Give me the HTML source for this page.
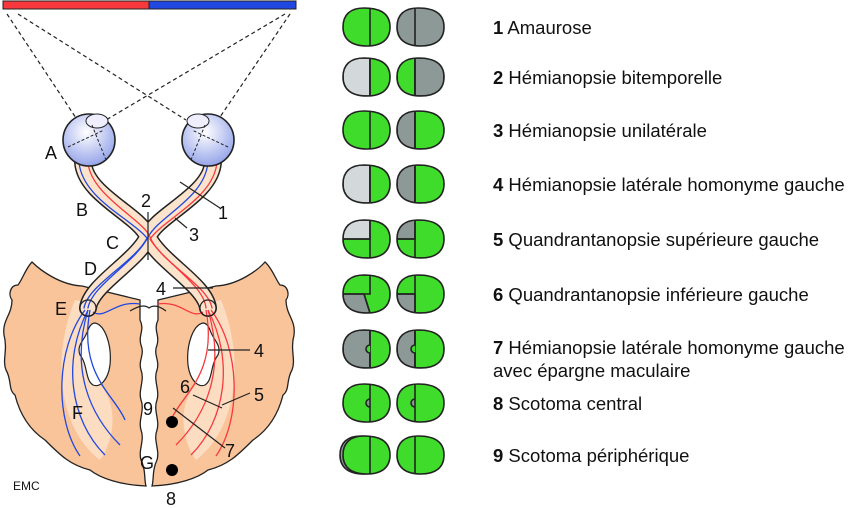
<!DOCTYPE html>
<html><head><meta charset="utf-8"><style>
html,body{margin:0;padding:0;background:#fff;}
svg{display:block;}
text{font-family:"Liberation Sans",sans-serif;}
</style></head><body>
<svg width="850" height="508" viewBox="0 0 850 508" xmlns="http://www.w3.org/2000/svg">
<defs>
<radialGradient id="eg" cx="0.45" cy="0.35" r="0.7">
<stop offset="0" stop-color="#ffffff"/><stop offset="1" stop-color="#8e9ee8"/></radialGradient>
<path id="blob" d="M21 0 C38 0 47 6 47 19 C47 32 38 38 24 38 C8 38 0 31 0 19 C0 7 7 0 21 0 Z"/>
<clipPath id="cb"><use href="#blob"/></clipPath>
</defs>

<rect x="3" y="1" width="146" height="8" fill="#f7393e" stroke="#222" stroke-width="1"/>
<rect x="149" y="1" width="147" height="8" fill="#2048e0" stroke="#222" stroke-width="1"/>
<g stroke="#222" stroke-width="1.2" stroke-dasharray="4,3" fill="none">
<line x1="7" y1="14" x2="76" y2="118"/><line x1="18" y1="14" x2="186" y2="120"/>
<line x1="285" y1="14" x2="106" y2="120"/><line x1="290" y1="14" x2="220" y2="117"/>
</g>

<g fill="#f9c49a" stroke="#222" stroke-width="1.3">
<path d="M32 262 C40 270 60 285 82 286 L140 300 L140 320 C145 330 138 335 141 345 C145 355 138 360 141 370 C145 380 138 390 141 400 C145 410 138 420 141 430 C145 440 138 450 141 460 C146 470 144 480 146 486 C120 485 100 478 90 470 C70 465 60 455 45 440 C30 430 20 415 15 395 C8 390 12 380 6 370 C2 360 8 350 4 335 C2 320 12 315 12 300 C8 295 10 285 18 285 C22 280 26 268 32 262 Z"/>
<path d="M265 262 C258 270 238 285 216 286 L158 300 L158 320 C153 330 160 335 157 345 C153 355 160 360 157 370 C153 380 160 390 157 400 C153 410 160 420 157 430 C153 440 160 450 157 460 C152 470 154 480 152 486 C178 485 198 478 208 470 C228 465 238 455 253 440 C268 430 278 415 283 395 C290 390 286 380 292 370 C296 360 290 350 294 335 C296 320 286 315 286 300 C290 295 288 285 280 285 C276 280 272 268 265 262 Z"/>
</g>
<g fill="#fde3cc" opacity="0.8">
<path d="M75 300 C50 360 60 430 100 460 C115 440 120 400 95 380 C75 350 85 320 100 305 Z"/>
<path d="M221 300 C246 360 236 430 196 460 C181 440 176 400 201 380 C221 350 211 320 196 305 Z"/>
</g>
<g fill="#fff" stroke="#222" stroke-width="1.2">
<path d="M95 323 C105 325 112 345 110 365 C108 380 100 388 93 385 C85 380 88 365 80 355 C76 345 85 340 88 330 C90 325 92 323 95 323 Z"/>
<path d="M203 323 C193 325 186 345 188 365 C190 380 198 388 205 385 C213 380 210 365 218 355 C222 345 213 340 210 330 C208 325 206 323 203 323 Z"/>
</g>
<path d="M130 311 C140 305 145 305 149 308 C153 305 158 305 166 311" fill="none" stroke="#222" stroke-width="1.2"/>

<g fill="none" stroke-linecap="round">
<path d="M83 162 C85 195 140 215 148 237 C160 262 205 285 208 308" stroke="#222" stroke-width="18"/>
<path d="M213 162 C211 195 156 215 148 237 C136 262 91 285 88 308" stroke="#222" stroke-width="18"/>
<path d="M83 162 C85 195 140 215 148 237 C160 262 205 285 208 308" stroke="#fbe3cc" stroke-width="15"/>
<path d="M213 162 C211 195 156 215 148 237 C136 262 91 285 88 308" stroke="#fbe3cc" stroke-width="15"/>
<path d="M79 162 C82 198 130 218 147 238 C135 262 88 285 84 308" stroke="#2048e0" stroke-width="1.3"/>
<path d="M208 162 C205 198 160 215 148 237 C136 262 92 285 88 308" stroke="#2048e0" stroke-width="1.3"/>
<path d="M88 162 C90 195 144 220 150 237 C160 262 208 285 212 308" stroke="#f7393e" stroke-width="1.3"/>
<path d="M217 162 C214 198 165 218 150 239 C164 262 204 285 206 308" stroke="#f7393e" stroke-width="1.3"/>
</g>
<circle cx="89" cy="140" r="26" fill="url(#eg)" stroke="#222" stroke-width="1.6"/>
<circle cx="208" cy="140" r="26" fill="url(#eg)" stroke="#222" stroke-width="1.6"/>
<ellipse cx="97" cy="121" rx="11" ry="7" fill="#eef" stroke="#222"/>
<ellipse cx="198" cy="121" rx="11" ry="7" fill="#eef" stroke="#222"/>
<g stroke="#222" stroke-dasharray="3,2" fill="none">
<line x1="68" y1="147" x2="104" y2="130"/><line x1="92" y1="125" x2="106" y2="160"/>
<line x1="228" y1="147" x2="192" y2="130"/><line x1="205" y1="125" x2="191" y2="160"/>
</g>
<g fill="none" stroke="#2048e0" stroke-width="1.3">
<path d="M85 310 C55 350 55 420 80 456"/><path d="M88 310 C62 360 70 420 105 455"/>
<path d="M88 310 C70 370 90 415 120 445"/><path d="M90 310 C78 375 115 395 125 420"/>
<path d="M93 312 C105 320 115 300 140 304"/>
</g>
<g fill="none" stroke="#f7393e" stroke-width="1.3">
<path d="M211 310 C241 350 241 420 216 456"/><path d="M208 310 C234 360 226 420 191 455"/>
<path d="M208 310 C226 370 206 415 176 445"/><path d="M206 310 C218 375 181 395 171 420"/>
<path d="M203 312 C191 320 181 300 158 304"/>
</g>
<circle cx="88" cy="308" r="8" fill="none" stroke="#222" stroke-width="1.2"/>
<circle cx="208" cy="308" r="8" fill="none" stroke="#222" stroke-width="1.2"/>
<circle cx="172" cy="422" r="6" fill="#000"/><circle cx="172" cy="470" r="6" fill="#000"/>

<g stroke="#222" stroke-width="1.2">
<line x1="148" y1="212" x2="148" y2="260"/>
<line x1="180" y1="182" x2="220" y2="208"/><line x1="175" y1="218" x2="187" y2="228"/>
<line x1="173" y1="288" x2="213" y2="288"/><line x1="208" y1="350" x2="250" y2="350"/>
<line x1="222" y1="405" x2="250" y2="393"/><line x1="193" y1="395" x2="222" y2="408"/>
<line x1="173" y1="408" x2="225" y2="448"/>
</g>
<g font-size="18" fill="#111">
<text x="45" y="159">A</text><text x="76" y="216">B</text><text x="106" y="249">C</text>
<text x="84" y="275">D</text><text x="55" y="315">E</text><text x="72" y="419">F</text>
<text x="140" y="469">G</text><text x="141" y="207">2</text><text x="218" y="219">1</text>
<text x="189" y="241">3</text><text x="156" y="295">4</text><text x="254" y="357">4</text>
<text x="254" y="401">5</text><text x="180" y="393">6</text><text x="225" y="457">7</text>
<text x="143" y="415">9</text><text x="166" y="505">8</text>
<text x="13" y="490" font-size="12">EMC</text>
</g>

<g stroke="#222" stroke-width="1.6">
<g transform="translate(343,8)"><use href="#blob" fill="#40dc2b"/><line x1="27" y1="0" x2="27" y2="38"/></g>
<g transform="translate(397,8)"><use href="#blob" fill="#8d9996"/><line x1="18" y1="0" x2="18" y2="38"/></g>
<g transform="translate(343,58)"><g clip-path="url(#cb)"><rect width="27" height="38" fill="#d3d9da"/><rect x="27" width="20" height="38" fill="#40dc2b"/></g><use href="#blob" fill="none"/><line x1="27" y1="0" x2="27" y2="38"/></g>
<g transform="translate(397,58)"><g clip-path="url(#cb)"><rect width="18" height="38" fill="#40dc2b"/><rect x="18" width="29" height="38" fill="#8d9996"/></g><use href="#blob" fill="none"/><line x1="18" y1="0" x2="18" y2="38"/></g>
<g transform="translate(343,111)"><use href="#blob" fill="#40dc2b"/><line x1="27" y1="0" x2="27" y2="38"/></g>
<g transform="translate(397,111)"><g clip-path="url(#cb)"><rect width="18" height="38" fill="#8d9996"/><rect x="18" width="29" height="38" fill="#40dc2b"/></g><use href="#blob" fill="none"/><line x1="18" y1="0" x2="18" y2="38"/></g>
<g transform="translate(343,165)"><g clip-path="url(#cb)"><rect width="27" height="38" fill="#d3d9da"/><rect x="27" width="20" height="38" fill="#40dc2b"/></g><use href="#blob" fill="none"/><line x1="27" y1="0" x2="27" y2="38"/></g>
<g transform="translate(397,165)"><g clip-path="url(#cb)"><rect width="18" height="38" fill="#8d9996"/><rect x="18" width="29" height="38" fill="#40dc2b"/></g><use href="#blob" fill="none"/><line x1="18" y1="0" x2="18" y2="38"/></g>
<g transform="translate(343,220)"><g clip-path="url(#cb)"><rect width="47" height="38" fill="#40dc2b"/><rect width="27" height="19" fill="#d3d9da"/></g><use href="#blob" fill="none"/><line x1="27" y1="0" x2="27" y2="38"/><line x1="0" y1="19" x2="27" y2="19"/></g>
<g transform="translate(397,220)"><g clip-path="url(#cb)"><rect width="47" height="38" fill="#40dc2b"/><rect width="18" height="19" fill="#8d9996"/></g><use href="#blob" fill="none"/><line x1="18" y1="0" x2="18" y2="38"/><line x1="0" y1="19" x2="18" y2="19"/></g>
<g transform="translate(343,275)"><g clip-path="url(#cb)"><rect width="47" height="38" fill="#40dc2b"/><path d="M0 19 H21 L27 38 H0 Z" fill="#8d9996"/></g><use href="#blob" fill="none"/><path d="M27 0 V19 H0 M21 19 L27 38" fill="none"/></g>
<g transform="translate(397,275)"><g clip-path="url(#cb)"><rect width="47" height="38" fill="#40dc2b"/><rect y="19" width="18" height="19" fill="#8d9996"/></g><use href="#blob" fill="none"/><line x1="18" y1="0" x2="18" y2="38"/><line x1="0" y1="19" x2="18" y2="19"/></g>
<g transform="translate(343,330)"><g clip-path="url(#cb)"><rect width="27" height="38" fill="#8d9996"/><rect x="27" width="20" height="38" fill="#40dc2b"/></g><use href="#blob" fill="none"/><path d="M27 0 V15 A4 4 0 0 0 27 23 V38" fill="#40dc2b"/></g>
<g transform="translate(397,330)"><g clip-path="url(#cb)"><rect width="18" height="38" fill="#8d9996"/><rect x="18" width="29" height="38" fill="#40dc2b"/></g><use href="#blob" fill="none"/><path d="M18 0 V15 A4 4 0 0 0 18 23 V38" fill="#40dc2b"/></g>
<g transform="translate(343,384)"><use href="#blob" fill="#40dc2b"/><path d="M27 15 A4 4 0 0 0 27 23" fill="#8d9996"/><line x1="27" y1="0" x2="27" y2="38"/></g>
<g transform="translate(397,384)"><use href="#blob" fill="#40dc2b"/><path d="M18 15 A4 4 0 0 0 18 23" fill="#8d9996"/><line x1="18" y1="0" x2="18" y2="38"/></g>
<g transform="translate(340,436)"><use href="#blob" fill="#8d9996"/></g>
<g transform="translate(343,436)"><use href="#blob" fill="#40dc2b"/><line x1="27" y1="0" x2="27" y2="38"/></g>
<g transform="translate(397,436)"><use href="#blob" fill="#40dc2b"/><line x1="18" y1="0" x2="18" y2="38"/></g>
</g>

<g font-size="18.5" fill="#111">
<text x="493" y="34"><tspan font-weight="bold">1</tspan> Amaurose</text>
<text x="493" y="84"><tspan font-weight="bold">2</tspan> Hémianopsie bitemporelle</text>
<text x="493" y="137"><tspan font-weight="bold">3</tspan> Hémianopsie unilatérale</text>
<text x="493" y="191"><tspan font-weight="bold">4</tspan> Hémianopsie latérale homonyme gauche</text>
<text x="493" y="246"><tspan font-weight="bold">5</tspan> Quandrantanopsie supérieure gauche</text>
<text x="493" y="301"><tspan font-weight="bold">6</tspan> Quandrantanopsie inférieure gauche</text>
<text x="493" y="354"><tspan font-weight="bold">7</tspan> Hémianopsie latérale homonyme gauche</text>
<text x="493" y="377">avec épargne maculaire</text>
<text x="493" y="410"><tspan font-weight="bold">8</tspan> Scotoma central</text>
<text x="493" y="462"><tspan font-weight="bold">9</tspan> Scotoma périphérique</text>
</g>
</svg>
</body></html>
